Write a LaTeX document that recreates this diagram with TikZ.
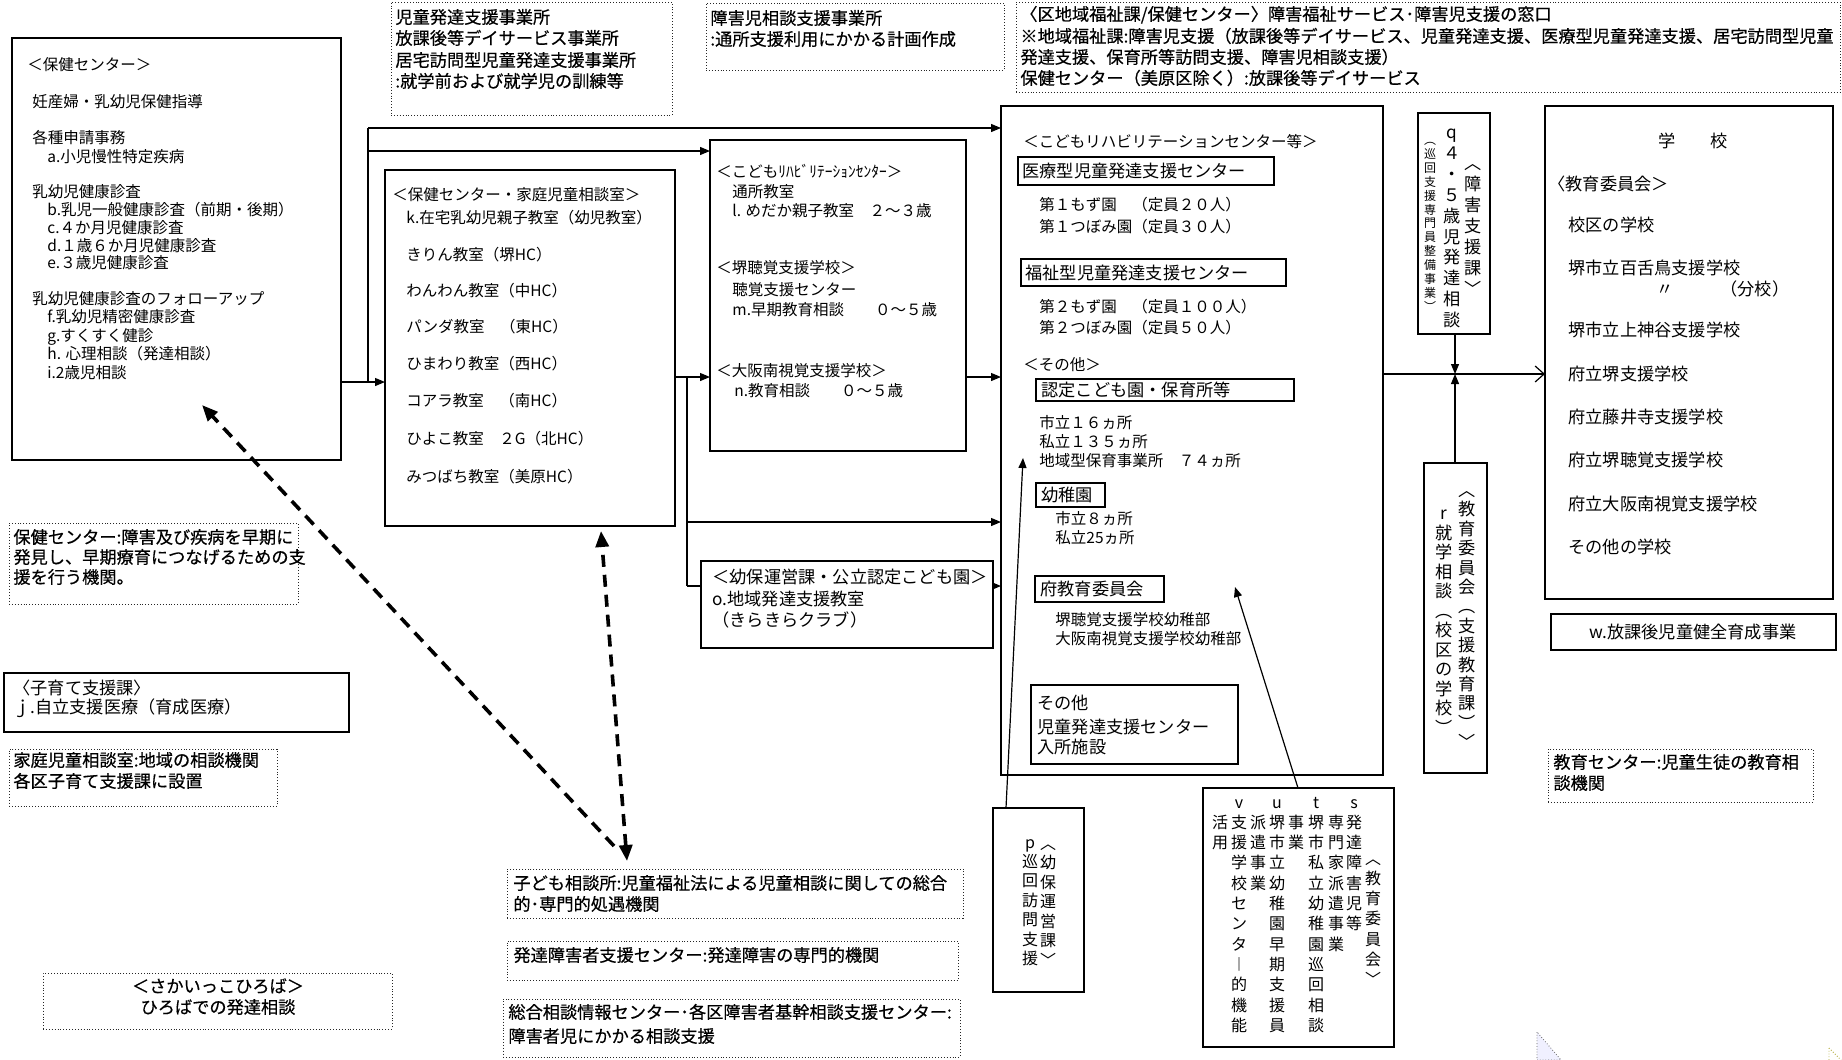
\documentclass[tikz,border=0pt]{standalone}
\usepackage{fontspec}
\newfontfamily\jp{Noto Sans CJK JP}
\newfontfamily\jpb{Noto Sans CJK JP}[FakeBold=0.5]
\usetikzlibrary{arrows.meta,fit,calc}
\tikzset{
 bx/.style={draw, line width=0.6pt, inner sep=0pt, outer sep=0pt, fill=white},
 dbx/.style={draw=black!85, line width=0.45pt, densely dotted, inner sep=0pt, outer sep=0pt},
 ts/.style={anchor=west, inner sep=0pt, font=\jp\fontsize{7.75pt}{9pt}\selectfont, text height=6.8pt, text depth=0.95pt},
 tn/.style={anchor=west, inner sep=0pt, font=\jp\fontsize{8.6pt}{10pt}\selectfont, text height=7.55pt, text depth=1.05pt},
 td/.style={anchor=west, inner sep=0pt, font=\jpb\fontsize{8.6pt}{10pt}\selectfont, text height=7.55pt, text depth=1.05pt},
 tc/.style={tn, anchor=center},
 tdc/.style={td, anchor=center},
 vn/.style={anchor=center, inner sep=0pt, font=\jp\fontsize{8.6pt}{10pt}\selectfont, text height=7.55pt, text depth=1.05pt},
 vm/.style={anchor=center, inner sep=0pt, font=\jp\fontsize{8pt}{10pt}\selectfont, text height=7.04pt, text depth=0.96pt},
 vsm/.style={anchor=center, inner sep=0pt, font=\jp\fontsize{6pt}{7pt}\selectfont, text height=5.28pt, text depth=0.72pt},
 ln/.style={line width=0.6pt},
 arr/.style={line width=0.6pt, -{Triangle[length=5pt,width=4pt]}},
 oarr/.style={line width=0.6pt, -{Straight Barb[length=4.5pt,width=8pt]}},
 dsh/.style={line width=1.8pt, dash pattern=on 6pt off 4pt},
}
\newcommand\Bx[6]{\node[#1, fit={(#3,#4) (#5,#6)}] (#2) {};}
\newcommand\Vc[6]{\foreach \c [count=\i from 0] in {#6} {\node[#5] (#1\i) at (#2,{#3+\i*#4}) {\c};}}
\begin{document}
\begin{tikzpicture}[x=0.5pt,y=-0.5pt]
\fill[white] (0,0) rectangle (1842,1060);
\useasboundingbox (0,0) rectangle (1842,1060);

% ---------- main boxes ----------
\Bx{bx}{hoken}{12}{38}{341}{460}
\Bx{bx}{katei}{385}{170}{675}{526}
\Bx{bx}{rehab}{710}{140}{966}{451}
\Bx{bx}{bigbox}{1001}{106}{1383}{775}
\Bx{bx}{school}{1545}{106}{1833}{599}
\Bx{bx}{qbox}{1418}{113}{1490}{334}
\Bx{bx}{rbox}{1424}{463}{1487}{773}
\Bx{bx}{pbox}{993}{808}{1084}{992}
\Bx{bx}{vuts}{1203}{788}{1394}{1047}
\Bx{bx}{wbox}{1551}{614}{1836}{650}
\Bx{bx}{kosodate}{4}{673}{349}{732}

% ---------- dotted boxes ----------
\Bx{dbx}{top1}{391}{2}{672}{115}
\Bx{dbx}{top2}{706}{3}{1004}{70}
\Bx{dbx}{top3}{1016}{2}{1840}{92}
\Bx{dbx}{lhoken}{9}{523}{298}{604}
\Bx{dbx}{lkatei}{9}{749}{277}{806}
\Bx{dbx}{sakai}{43}{973}{392}{1029}
\Bx{dbx}{kodomo}{507}{869}{963}{918}
\Bx{dbx}{hattatsu}{507}{941}{958}{980}
\Bx{dbx}{sougou}{503}{999}{960}{1057}
\Bx{dbx}{kyoiku}{1548}{749}{1813}{802}

% ---------- connectors ----------
\coordinate (jA) at (368,382);
\coordinate (jB) at (368,128);
\coordinate (jC) at (368,151);
\coordinate (jD) at (687,377);
\coordinate (jE) at (687,586);
\coordinate (jF) at (687,522);
\coordinate (jG) at (1455,374);
\coordinate (jH) at (1023,458);
\coordinate (jI) at (1235,587);
\draw[arr] (hoken.east |- jA) -- (katei.west |- jA);
\draw[ln] (jA) -- (jB);
\draw[arr] (jB) -- (bigbox.west |- jB);
\draw[arr] (jC) -- (rehab.west |- jC);
\draw[arr] (katei.east |- jD) -- (rehab.west |- jD);
\draw[ln] (jD) -- (jE);
\draw[arr] (jF) -- (bigbox.west |- jF);
\draw[arr] (jE) -- (bigbox.west |- jE);
\draw[arr] (rehab.east |- jD) -- (bigbox.west |- jD);
\draw[oarr] (bigbox.east |- jG) -- (school.west |- jG);
\draw[arr] (qbox.south -| jG) -- (jG);
\draw[arr] (rbox.north -| jG) -- (jG);
\draw[arr] ([xshift=6.5pt]pbox.north west) -- (jH);
\draw[arr] ([xshift=47.5pt]vuts.north west) -- (jI);

% youho box drawn over its arrow
\Bx{bx}{youho}{701}{561}{993}{648}

% dashed arrows
\coordinate (dA) at (202,405);
\coordinate (dB) at (601,531);
\coordinate (dC) at (627,861);
\coordinate (dD) at (614,846);
\draw[dsh, -{Triangle[length=8pt,width=6.5pt]}] (dD) -- (dA);
\draw[dsh, {Triangle[length=8pt,width=6.5pt]}-{Triangle[length=8pt,width=6.5pt]}] (dC) -- (dB);

% ---------- hoken texts ----------
\node[ts] (h1) at (27,65) {＜保健センター＞};
\node[ts] (h2) at (32,102) {妊産婦・乳幼児保健指導};
\node[ts] (h3) at (32,138) {各種申請事務};
\node[ts] (h4) at (47,157) {a.小児慢性特定疾病};
\node[ts] (h5) at (32,192) {乳幼児健康診査};
\node[ts] (h6) at (47,210) {b.乳児一般健康診査（前期・後期）};
\node[ts] (h7) at (47,228) {c.４か月児健康診査};
\node[ts] (h8) at (47,246) {d.１歳６か月児健康診査};
\node[ts] (h9) at (47,263) {e.３歳児健康診査};
\node[ts] (h10) at (32,299) {乳幼児健康診査のフォローアップ};
\node[ts] (h11) at (47,317) {f.乳幼児精密健康診査};
\node[ts] (h12) at (47,336) {g.すくすく健診};
\node[ts] (h13) at (47,354) {h. 心理相談（発達相談）};
\node[ts] (h14) at (47,373) {i.2歳児相談};

% ---------- top dotted texts ----------
\node[td] (a1) at (395,17) {児童発達支援事業所};
\node[td] (a2) at (395,38) {放課後等デイサービス事業所};
\node[td] (a3) at (395,60) {居宅訪問型児童発達支援事業所};
\node[td] (a4) at (395,81) {:就学前および就学児の訓練等};
\node[td] (b1) at (710,18) {障害児相談支援事業所};
\node[td] (b2) at (710,39) {:通所支援利用にかかる計画作成};
\node[td] (c1) at (1020,14) {〈区地域福祉課/保健センター〉障害福祉サービス･障害児支援の窓口};
\node[td] (c2) at (1020,36) {※地域福祉課:障害児支援（放課後等デイサービス、児童発達支援、医療型児童発達支援、居宅訪問型児童};
\node[td] (c3) at (1020,57) {発達支援、保育所等訪問支援、障害児相談支援）};
\node[td] (c4) at (1020,78) {保健センター（美原区除く）:放課後等デイサービス};

% ---------- left texts ----------
\node[td] (l1) at (13,537) {保健センター:障害及び疾病を早期に};
\node[td] (l2) at (13,557) {発見し、早期療育につなげるための支};
\node[td] (l3) at (13,577) {援を行う機関。};
\node[tn] (k1) at (13,688) {〈子育て支援課〉};
\node[tn] (k2) at (13,707) {ｊ.自立支援医療（育成医療）};
\node[td] (m1) at (13,760) {家庭児童相談室:地域の相談機関};
\node[td] (m2) at (13,781) {各区子育て支援課に設置};
\node[tdc] (s1) at (218,986) {＜さかいっこひろば＞};
\node[tdc] (s2) at (218,1007) {ひろばでの発達相談};

% ---------- katei texts ----------
\node[ts] (f1) at (392,195) {＜保健センター・家庭児童相談室＞};
\node[ts] (f2) at (406,218) {k.在宅乳幼児親子教室（幼児教室）};
\node[ts] (f3) at (406,255) {きりん教室（堺HC）};
\node[ts] (f4) at (406,291) {わんわん教室（中HC）};
\node[ts] (f5) at (406,327) {パンダ教室　（東HC）};
\node[ts] (f6) at (406,364) {ひまわり教室（西HC）};
\node[ts] (f7) at (406,401) {コアラ教室　（南HC）};
\node[ts] (f8) at (406,439) {ひよこ教室　２G（北HC）};
\node[ts] (f9) at (406,477) {みつばち教室（美原HC）};

% ---------- rehab texts ----------
\node[ts] (g1) at (716,172) {＜こどもﾘﾊﾋﾞﾘﾃｰｼｮﾝｾﾝﾀｰ＞};
\node[ts] (g2) at (732,192) {通所教室};
\node[ts] (g3) at (732,211) {l. めだか親子教室　２～３歳};
\node[ts] (g4) at (716,268) {＜堺聴覚支援学校＞};
\node[ts] (g5) at (732,290) {聴覚支援センター};
\node[ts] (g6) at (732,310) {m.早期教育相談　　０～５歳};
\node[ts] (g7) at (716,371) {＜大阪南視覚支援学校＞};
\node[ts] (g8) at (734,391) {n.教育相談　　０～５歳};

% ---------- youho texts ----------
\node[tn] (y1) at (712,577) {＜幼保運営課・公立認定こども園＞};
\node[tn] (y2) at (712,599) {o.地域発達支援教室};
\node[tn] (y3) at (712,620) {（きらきらクラブ）};

% ---------- bigbox contents ----------
\node[ts] (e1) at (1023,142) {＜こどもリハビリテーションセンター等＞};
\Bx{bx}{iryou}{1018}{157}{1274}{185}
\node[tn] (e2) at (1022,171) {医療型児童発達支援センター};
\node[ts] (e3) at (1039,205) {第１もず園　（定員２０人）};
\node[ts] (e4) at (1039,227) {第１つぼみ園（定員３０人）};
\Bx{bx}{fukushi}{1021}{259}{1286}{286}
\node[tn] (e5) at (1025,273) {福祉型児童発達支援センター};
\node[ts] (e6) at (1039,307) {第２もず園　（定員１００人）};
\node[ts] (e7) at (1039,328) {第２つぼみ園（定員５０人）};
\node[ts] (e8) at (1023,365) {＜その他＞};
\Bx{bx}{nintei}{1036}{379}{1294}{401}
\node[tn] (e9) at (1041,390) {認定こども園・保育所等};
\node[ts] (e10) at (1039,423) {市立１６ヵ所};
\node[ts] (e11) at (1039,442) {私立１３５ヵ所};
\node[ts] (e12) at (1039,461) {地域型保育事業所　７４ヵ所};
\Bx{bx}{youchien}{1036}{483}{1105}{507}
\node[tn] (e13) at (1041,495) {幼稚園};
\node[ts] (e14) at (1055,519) {市立８ヵ所};
\node[ts] (e15) at (1055,538) {私立25ヵ所};
\Bx{bx}{fukyoi}{1035}{576}{1164}{602}
\node[tn] (e16) at (1040,589) {府教育委員会};
\node[ts] (e17) at (1055,620) {堺聴覚支援学校幼稚部};
\node[ts] (e18) at (1055,639) {大阪南視覚支援学校幼稚部};
\Bx{bx}{sonota}{1031}{685}{1238}{764}
\node[tn] (e19) at (1037,703) {その他};
\node[tn] (e20) at (1037,727) {児童発達支援センター};
\node[tn] (e21) at (1037,747) {入所施設};

% ---------- school ----------
\node[tc] (sc0) at (1693,141) {学　　校};
\node[tn] (sc1) at (1548,184) {〈教育委員会＞};
\node[tn] (sc2) at (1568,225) {校区の学校};
\node[tn] (sc3) at (1568,268) {堺市立百舌鳥支援学校};
\node[tc] (sc4) at (1665,289) {〃};
\node[tn] (sc5) at (1720,289) {（分校）};
\node[tn] (sc6) at (1568,330) {堺市立上神谷支援学校};
\node[tn] (sc7) at (1568,374) {府立堺支援学校};
\node[tn] (sc8) at (1568,417) {府立藤井寺支援学校};
\node[tn] (sc9) at (1568,460) {府立堺聴覚支援学校};
\node[tn] (sc10) at (1568,504) {府立大阪南視覚支援学校};
\node[tn] (sc11) at (1568,547) {その他の学校};
\node[tc] (w1) at (1693,632) {w.放課後児童健全育成事業};
\node[td] (n1) at (1553,762) {教育センター:児童生徒の教育相};
\node[td] (n2) at (1553,783) {談機関};

% ---------- bottom dotted texts ----------
\node[td] (o1) at (513,883) {子ども相談所:児童福祉法による児童相談に関しての総合};
\node[td] (o2) at (513,904) {的･専門的処遇機関};
\node[td] (o3) at (513,955) {発達障害者支援センター:発達障害の専門的機関};
\node[td] (o4) at (508,1012) {総合相談情報センター･各区障害者基幹相談支援センター:};
\node[td] (o5) at (508,1036) {障害者児にかかる相談支援};

% ---------- vertical texts ----------
\Vc{qa}{1473}{163}{21}{vn}{︿,障,害,支,援,課,﹀}
\Vc{qb}{1452}{132}{20.9}{vn}{q,４,・,５,歳,児,発,達,相,談}
\Vc{qc}{1430}{140}{13.9}{vsm}{︵,巡,回,支,援,専,門,員,整,備,事,業,︶}
\Vc{ra}{1467}{490}{19.4}{vn}{︿,教,育,委,員,会,︵,支,援,教,育,課,︶,﹀}
\Vc{rb}{1444}{513}{19.5}{vn}{r,就,学,相,談,︵,校,区,の,学,校,︶}
\Vc{pa}{1048}{843}{19.5}{vm}{︿,幼,保,運,営,課,﹀}
\Vc{pb}{1030}{842}{19.4}{vm}{p,巡,回,訪,問,支,援}
\Vc{va}{1220}{822.3}{20.3}{vm}{活,用}
\Vc{vb}{1239}{802}{20.3}{vm}{v,支,援,学,校,セ,ン,タ,︱,的,機,能}
\Vc{vc}{1258}{822.3}{20.3}{vm}{派,遣,事,業}
\Vc{vd}{1277}{802}{20.3}{vm}{u,堺,市,立,幼,稚,園,早,期,支,援,員}
\Vc{ve}{1296}{822.3}{20.3}{vm}{事,業}
\Vc{vf}{1316}{802}{20.3}{vm}{t,堺,市,私,立,幼,稚,園,巡,回,相,談}
\Vc{vg}{1336}{822.3}{20.3}{vm}{専,門,家,派,遣,事,業}
\Vc{vh}{1354}{802}{20.3}{vm}{s,発,達,障,害,児,等}
\Vc{vi}{1373}{858}{20.3}{vm}{︿,教,育,委,員,会,﹀}

% ---------- corner marks ----------
\filldraw[fill=blue!6, draw=black!60, densely dotted, line width=0.4pt] (1537,1032) -- (1537,1060) -- (1561,1060) -- cycle;
\draw[draw=olive!70, densely dotted, line width=0.4pt] (1829,1048) -- (1829,1060) (1829,1048) -- (1841,1060);
\end{tikzpicture}
\end{document}
